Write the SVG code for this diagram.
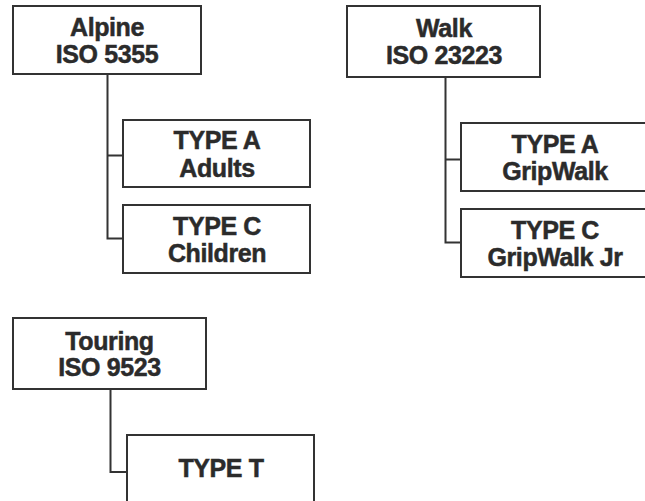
<svg xmlns="http://www.w3.org/2000/svg" width="645" height="501" viewBox="0 0 645 501">
<style>
.box{fill:#fff;stroke:#333;stroke-width:2}
.conn{fill:none;stroke:#333;stroke-width:2}
text{font-family:"Liberation Sans",Arial,sans-serif;font-weight:bold;font-size:25px;letter-spacing:-0.4px;fill:#2b2b2b;stroke:#2b2b2b;stroke-width:0.5;text-anchor:middle}
</style>
<rect width="645" height="501" fill="#fff"/>
<g id="connectors">
<path class="conn" d="M107.5,74 V238.5 H123 M107.5,155.5 H123"/>
<path class="conn" d="M445.5,77 V242.5 H461 M445.5,159.5 H461"/>
<path class="conn" d="M110.5,389 V472 H127"/>
</g>
<g id="alpine"><rect class="box" x="13" y="6" width="188" height="68"/><text x="107" y="36">Alpine</text><text x="107" y="63">ISO 5355</text></g>
<g id="alpine-a"><rect class="box" x="123" y="120" width="187" height="67"/><text x="217" y="149">TYPE A</text><text x="217" y="177">Adults</text></g>
<g id="alpine-c"><rect class="box" x="123" y="205" width="187" height="68"/><text x="217" y="235">TYPE C</text><text x="217" y="262">Children</text></g>
<g id="walk"><rect class="box" x="347" y="6" width="193" height="71"/><text x="444" y="37">Walk</text><text x="444" y="64">ISO 23223</text></g>
<g id="walk-a"><rect class="box" x="461" y="123" width="190" height="68"/><text x="555" y="153">TYPE A</text><text x="555" y="180">GripWalk</text></g>
<g id="walk-c"><rect class="box" x="461" y="209" width="190" height="68"/><text x="555" y="239">TYPE C</text><text x="555" y="266">GripWalk Jr</text></g>
<g id="touring"><rect class="box" x="13" y="318" width="193" height="71"/><text x="109.5" y="350">Touring</text><text x="109.5" y="376">ISO 9523</text></g>
<g id="touring-t"><rect class="box" x="127" y="435" width="187" height="70"/><text x="221" y="477">TYPE T</text></g>
</svg>
